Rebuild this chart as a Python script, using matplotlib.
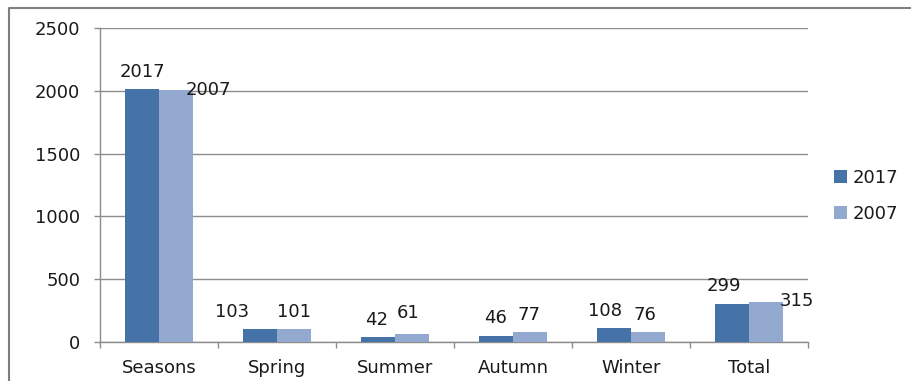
import numpy as np
import matplotlib
matplotlib.use("Agg")
import matplotlib.pyplot as plt
from matplotlib.lines import Line2D

categories = ["Seasons", "Spring", "Summer", "Autumn", "Winter", "Total"]
values_2017 = [2017, 103, 42, 46, 108, 299]
values_2007 = [2007, 101, 61, 77, 76, 315]
series_names = ["2017", "2007"]
y_ticks = [0, 500, 1000, 1500, 2000, 2500]

# label offsets (pixels) from the top centre of each bar
off_2017 = [(0, 17), (-28, 17), (-2, 17), (-1, 18), (-9, 17), (-8, 18)]
off_2007 = [(33, 0), (0, 17), (-4, 21), (-1, 17), (-3, 17), (31, 1)]

dark = "#4573a7"
light = "#94a9d0"
grid_col = "#8c8c8c"
txt_col = "#1a1a1a"
fs = 13

plt.rcParams['font.family'] = ['DejaVu Sans']

fig = plt.figure(figsize=(9.11, 3.81), dpi=100)
ax = fig.add_axes([100 / 911, 39 / 381, 708 / 911, 314 / 381])

# outer chart frame (left and top edges only show)
fx, fy = 9 / 911, 1 - 8 / 381
fig.add_artist(Line2D([fx, fx, 1.1], [-0.1, fy, fy], transform=fig.transFigure,
                      color="#7f7f7f", linewidth=1.5))

x = np.arange(len(categories))
w = 0.285
b1 = ax.bar(x - w / 2, values_2017, w, color=dark, label=series_names[0], zorder=3)
b2 = ax.bar(x + w / 2, values_2007, w, color=light, label=series_names[1], zorder=3)

for bars, vals, offs in [(b1, values_2017, off_2017), (b2, values_2007, off_2007)]:
    for rect, v, (dx, dy) in zip(bars, vals, offs):
        ax.annotate(str(v), (rect.get_x() + rect.get_width() / 2, v),
                    xytext=(dx, dy), textcoords="offset pixels",
                    ha="center", va="center", fontsize=fs, color=txt_col,
                    zorder=4, annotation_clip=False)

ax.set_xlim(-0.5, len(categories) - 0.5)
ax.set_ylim(0, 2500)
ax.set_yticks(y_ticks)
ax.set_xticks(x)
ax.set_xticklabels(categories)
ax.set_xticks(np.arange(-0.5, len(categories), 1.0), minor=True)

ax.yaxis.grid(True, color=grid_col, linewidth=1, zorder=0)
ax.set_axisbelow(True)
for s in ["top", "right"]:
    ax.spines[s].set_visible(False)
for s in ["left", "bottom"]:
    ax.spines[s].set_color(grid_col)
    ax.spines[s].set_linewidth(1)

ax.tick_params(axis="y", direction="out", length=4.3, width=1, color=grid_col,
               pad=10, labelsize=fs, labelcolor=txt_col)
ax.tick_params(axis="x", which="major", length=0, pad=12, labelsize=fs,
               labelcolor=txt_col)
ax.tick_params(axis="x", which="minor", direction="out", length=4.3, width=1,
               color=grid_col)

fig.legend(handles=[b1, b2], labels=series_names, loc="center left",
           bbox_to_anchor=(818 / 911, 1 - 196 / 381), frameon=False,
           fontsize=fs, handlelength=0.7, handleheight=0.7,
           handletextpad=0.3, labelspacing=1.0, labelcolor=txt_col)

fig.savefig("out.png", dpi=100)
